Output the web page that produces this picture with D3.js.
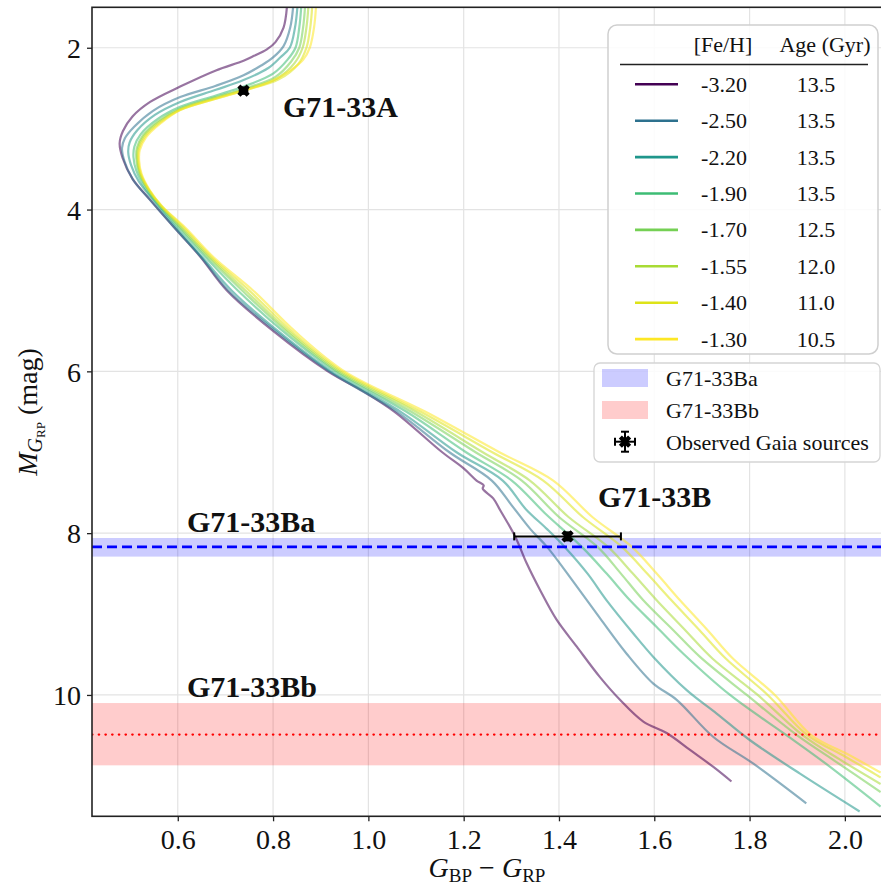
<!DOCTYPE html>
<meta charset="utf-8">
<head>
  <title>G71-33 isochrones</title>
</head>

<style>
body { margin: 0; background: #fff; }
text {
  font-family: "Liberation Serif", "Times New Roman", serif;
  fill: #111;
}
.axis text { font-size: 28px; fill: #111; }
.axis line { stroke: #222; stroke-width: 1.3; }
.grid line { stroke: #e3e3e3; stroke-width: 1.2; }
.iso { fill: none; stroke-width: 2.2; opacity: 0.55; }
.lbl { font-size: 30px; font-weight: bold; }
.leg { font-size: 22px; }
</style>

<body>
  <svg width="881" height="890"></svg>

  <script src="https://cdnjs.cloudflare.com/ajax/libs/d3/7.8.5/d3.min.js"></script>
  <script>
// legend table
var feh = [-3.20, -2.50, -2.20, -1.90, -1.70, -1.55, -1.40, -1.30];
var ages = ["13.5", "13.5", "13.5", "13.5", "12.5", "12.0", "11.0", "10.5"];

// isochrones, [BP-RP, M_RP]
var iso320 = [[0.829,1.50],[0.822,1.75],[0.805,1.93],[0.787,2.02],[0.760,2.10],[0.738,2.16],[0.680,2.28],[0.605,2.48],[0.542,2.67],[0.505,2.85],[0.485,3.03],[0.478,3.18],[0.484,3.36],[0.505,3.62],[0.542,3.88],[0.591,4.21],[0.647,4.58],[0.703,5.00],[0.800,5.50],[0.915,6.00],[0.990,6.25],[1.055,6.50],[1.155,7.00],[1.200,7.20],[1.227,7.35],[1.242,7.41],[1.240,7.45],[1.262,7.57],[1.277,7.72],[1.308,8.04],[1.332,8.37],[1.360,8.70],[1.395,9.07],[1.437,9.40],[1.486,9.78],[1.528,10.06],[1.577,10.33],[1.626,10.47],[1.675,10.68],[1.724,10.89],[1.762,11.07]];
var iso250 = [[0.842,1.50],[0.836,1.75],[0.822,1.98],[0.800,2.12],[0.775,2.22],[0.738,2.34],[0.680,2.47],[0.605,2.61],[0.548,2.78],[0.508,2.98],[0.489,3.12],[0.483,3.24],[0.488,3.40],[0.506,3.63],[0.543,3.89],[0.592,4.22],[0.649,4.59],[0.706,5.00],[0.805,5.50],[0.918,6.00],[1.060,6.50],[1.170,7.00],[1.259,7.35],[1.300,7.65],[1.340,7.95],[1.375,8.17],[1.430,8.60],[1.486,9.05],[1.542,9.49],[1.598,9.86],[1.647,10.06],[1.724,10.52],[1.808,10.85],[1.919,11.34]];
var iso220 = [[0.851,1.50],[0.846,1.75],[0.835,2.00],[0.815,2.12],[0.790,2.25],[0.738,2.40],[0.680,2.52],[0.605,2.67],[0.552,2.83],[0.515,3.02],[0.499,3.17],[0.496,3.29],[0.502,3.45],[0.518,3.65],[0.548,3.88],[0.596,4.22],[0.653,4.60],[0.713,5.00],[0.810,5.50],[0.922,6.00],[1.068,6.50],[1.185,7.00],[1.282,7.35],[1.330,7.70],[1.375,7.95],[1.412,8.17],[1.460,8.50],[1.500,8.83],[1.556,9.24],[1.598,9.53],[1.668,9.94],[1.731,10.23],[1.801,10.56],[1.905,10.97],[2.031,11.44]];
var iso190 = [[0.859,1.50],[0.855,1.75],[0.847,2.00],[0.830,2.15],[0.800,2.32],[0.738,2.48],[0.680,2.59],[0.605,2.73],[0.558,2.88],[0.522,3.07],[0.509,3.22],[0.507,3.35],[0.513,3.52],[0.530,3.72],[0.556,3.92],[0.601,4.22],[0.660,4.60],[0.726,5.00],[0.820,5.50],[0.930,6.00],[1.080,6.50],[1.205,7.00],[1.301,7.35],[1.370,7.75],[1.448,8.17],[1.500,8.50],[1.549,8.83],[1.605,9.16],[1.661,9.49],[1.759,10.00],[1.878,10.50],[1.960,10.85],[2.075,11.38]];
var iso170 = [[0.867,1.50],[0.863,1.75],[0.855,2.00],[0.838,2.17],[0.805,2.36],[0.738,2.51],[0.680,2.61],[0.605,2.75],[0.560,2.90],[0.527,3.08],[0.514,3.24],[0.513,3.37],[0.518,3.53],[0.535,3.73],[0.560,3.93],[0.605,4.22],[0.665,4.60],[0.735,5.00],[0.827,5.50],[0.935,6.00],[1.090,6.50],[1.225,7.00],[1.322,7.35],[1.400,7.80],[1.481,8.17],[1.530,8.50],[1.577,8.83],[1.640,9.20],[1.696,9.53],[1.794,10.00],[1.900,10.50],[1.980,10.82],[2.075,11.20]];
var iso155 = [[0.874,1.50],[0.870,1.75],[0.862,2.00],[0.845,2.19],[0.808,2.38],[0.738,2.52],[0.680,2.62],[0.605,2.76],[0.562,2.91],[0.529,3.09],[0.516,3.25],[0.515,3.38],[0.520,3.54],[0.537,3.74],[0.562,3.94],[0.608,4.22],[0.669,4.60],[0.742,5.00],[0.832,5.50],[0.940,6.00],[1.100,6.50],[1.240,7.00],[1.339,7.35],[1.420,7.80],[1.503,8.17],[1.555,8.50],[1.605,8.83],[1.665,9.20],[1.722,9.55],[1.817,10.00],[1.912,10.50],[1.990,10.80],[2.075,11.10]];
var iso140 = [[0.882,1.50],[0.878,1.75],[0.870,2.00],[0.853,2.20],[0.812,2.39],[0.738,2.53],[0.680,2.63],[0.605,2.77],[0.564,2.92],[0.531,3.10],[0.518,3.26],[0.517,3.39],[0.522,3.55],[0.539,3.75],[0.565,3.95],[0.612,4.22],[0.673,4.60],[0.750,5.00],[0.838,5.50],[0.945,6.00],[1.110,6.50],[1.260,7.00],[1.367,7.35],[1.450,7.80],[1.532,8.17],[1.585,8.50],[1.636,8.83],[1.695,9.20],[1.750,9.55],[1.838,10.00],[1.922,10.50],[2.000,10.76],[2.075,11.02]];
var iso130 = [[0.890,1.50],[0.886,1.75],[0.877,2.00],[0.863,2.15],[0.836,2.28],[0.794,2.42],[0.738,2.53],[0.680,2.63],[0.605,2.77],[0.565,2.93],[0.533,3.11],[0.520,3.27],[0.519,3.40],[0.524,3.56],[0.541,3.76],[0.567,3.96],[0.615,4.22],[0.677,4.60],[0.758,5.00],[0.845,5.50],[0.950,6.00],[1.120,6.50],[1.275,7.00],[1.388,7.35],[1.470,7.80],[1.553,8.17],[1.605,8.50],[1.654,8.83],[1.712,9.20],[1.765,9.55],[1.853,10.00],[1.930,10.50],[2.005,10.73],[2.075,10.96]];
var isochrones = [iso320, iso250, iso220, iso190, iso170, iso155, iso140, iso130];

// companion magnitudes (line, band low, band high)
var baMag = [8.17, 8.06, 8.29];
var bbMag = [10.49, 10.10, 10.87];

// observed Gaia sources
var srcNames = ["G71-33A", "G71-33B"];
var srcX = [0.738, 1.418];
var srcY = [2.53, 8.04];
var srcXerr = [0.008, 0.112];
var srcYerr = [0.04, 0.05];

var xTicks = [0.6, 0.8, 1.0, 1.2, 1.4, 1.6, 1.8, 2.0];
var yTicks = [2, 4, 6, 8, 10];

var svg = d3.select('svg');
var pL = 92, pT = 7.3, pR = 883, pB = 816.3;

var x = d3.scaleLinear().domain([0.42, 2.08]).range([pL, pR]);
var y = d3.scaleLinear().domain([1.5, 11.5]).range([pT, pB]);
var color = d3.scaleSequential(d3.interpolateViridis).domain([-3.2, -1.3]);

svg.append('defs').append('clipPath').attr('id', 'clip')
  .append('rect')
  .attr('x', pL).attr('y', pT)
  .attr('width', pR - pL).attr('height', pB - pT);

// grid
var grid = svg.append('g').attr('class', 'grid');
grid.selectAll('.gx').data(xTicks).enter().append('line')
  .attr('x1', function(d) { return x(d); }).attr('x2', function(d) { return x(d); })
  .attr('y1', pT).attr('y2', pB);
grid.selectAll('.gy').data(yTicks).enter().append('line')
  .attr('y1', function(d) { return y(d); }).attr('y2', function(d) { return y(d); })
  .attr('x1', pL).attr('x2', pR);

var plot = svg.append('g').attr('clip-path', 'url(#clip)');

// bands
plot.append('rect')
  .attr('x', pL).attr('width', pR - pL)
  .attr('y', y(baMag[1])).attr('height', y(baMag[2]) - y(baMag[1]))
  .attr('fill', 'blue').attr('fill-opacity', 0.2);
plot.append('rect')
  .attr('x', pL).attr('width', pR - pL)
  .attr('y', y(bbMag[1])).attr('height', y(bbMag[2]) - y(bbMag[1]))
  .attr('fill', 'red').attr('fill-opacity', 0.2);

var line = d3.line()
  .x(function(d) { return x(d[0]); })
  .y(function(d) { return y(d[1]); })
  .curve(d3.curveCatmullRom.alpha(0.5));

plot.selectAll('.iso').data(isochrones).enter().append('path')
  .attr('class', 'iso')
  .attr('d', line)
  .attr('stroke', function(d, i) { return color(feh[i]); });

plot.append('line')
  .attr('x1', pL).attr('x2', pR)
  .attr('y1', y(baMag[0])).attr('y2', y(baMag[0]))
  .attr('stroke', '#0000ff').attr('stroke-width', 2.6)
  .attr('stroke-dasharray', '10,5');
plot.append('line')
  .attr('x1', pL).attr('x2', pR)
  .attr('y1', y(bbMag[0])).attr('y2', y(bbMag[0]))
  .attr('stroke', '#ff0000').attr('stroke-width', 2.2)
  .attr('stroke-linecap', 'round')
  .attr('stroke-dasharray', '0.5,6.2');

// error bars + X markers
var xMark = d3.symbol().type(d3.symbolCross).size(95);
function errMark(g, cx, cy, dx, dy, cap) {
  g.append('line').attr('x1', cx - dx).attr('x2', cx + dx).attr('y1', cy).attr('y2', cy);
  g.append('line').attr('x1', cx).attr('x2', cx).attr('y1', cy - dy).attr('y2', cy + dy);
  g.append('line').attr('x1', cx - dx).attr('x2', cx - dx).attr('y1', cy - cap).attr('y2', cy + cap);
  g.append('line').attr('x1', cx + dx).attr('x2', cx + dx).attr('y1', cy - cap).attr('y2', cy + cap);
  g.append('line').attr('x1', cx - cap).attr('x2', cx + cap).attr('y1', cy - dy).attr('y2', cy - dy);
  g.append('line').attr('x1', cx - cap).attr('x2', cx + cap).attr('y1', cy + dy).attr('y2', cy + dy);
  g.append('path').attr('d', xMark)
    .attr('transform', 'translate(' + cx + ',' + cy + ') rotate(45)')
    .attr('fill', '#000').attr('stroke', 'none');
}
var srcG = svg.append('g').attr('stroke', '#000').attr('stroke-width', 2);
srcX.forEach(function(v, i) {
  errMark(srcG, x(v), y(srcY[i]),
    x(v + srcXerr[i]) - x(v), y(srcY[i] + srcYerr[i]) - y(srcY[i]), 4);
});

// frame
svg.append('rect')
  .attr('x', pL).attr('y', pT)
  .attr('width', pR - pL).attr('height', pB - pT)
  .attr('fill', 'none').attr('stroke', '#222').attr('stroke-width', 1.6);

// axes
var xAxis = svg.append('g').attr('class', 'axis')
  .attr('transform', 'translate(0,' + pB + ')')
  .call(d3.axisBottom(x).tickValues(xTicks).tickFormat(d3.format('.1f')).tickSize(5));
xAxis.select('.domain').remove();
xAxis.selectAll('text').attr('y', 33).attr('dy', 0);

var yAxis = svg.append('g').attr('class', 'axis')
  .attr('transform', 'translate(' + pL + ',0)')
  .call(d3.axisLeft(y).tickValues(yTicks).tickSize(5));
yAxis.select('.domain').remove();
yAxis.selectAll('text').attr('x', -11).attr('dy', '0.35em');

// axis labels
var xl = svg.append('text').attr('x', 487).attr('y', 877)
  .attr('text-anchor', 'middle').style('font-size', '28px');
xl.append('tspan').attr('font-style', 'italic').text('G');
xl.append('tspan').attr('font-size', '19px').attr('dy', 5).text('BP');
xl.append('tspan').attr('dy', -5).text(' \u2212 ');
xl.append('tspan').attr('font-style', 'italic').text('G');
xl.append('tspan').attr('font-size', '19px').attr('dy', 5).text('RP');

var yl = svg.append('text')
  .attr('transform', 'translate(37,412) rotate(-90)')
  .attr('text-anchor', 'middle').style('font-size', '28px');
yl.append('tspan').attr('font-style', 'italic').text('M');
yl.append('tspan').attr('font-style', 'italic').attr('font-size', '20px').attr('dy', 5).text('G');
yl.append('tspan').attr('font-size', '13px').attr('dy', 3).text('RP');
yl.append('tspan').attr('dy', -8).text(' (mag)');

// star labels
svg.append('text').attr('class', 'lbl').attr('x', 283).attr('y', 117).text(srcNames[0]);
svg.append('text').attr('class', 'lbl').attr('x', 598).attr('y', 507).text(srcNames[1]);
svg.append('text').attr('class', 'lbl').attr('x', 187).attr('y', 532).text('G71-33Ba');
svg.append('text').attr('class', 'lbl').attr('x', 187).attr('y', 697).text('G71-33Bb');

// legend 1: isochrone table
var lg = svg.append('g');
lg.append('rect').attr('x', 608).attr('y', 25).attr('width', 270).attr('height', 329)
  .attr('rx', 9).attr('fill', '#fff').attr('fill-opacity', 0.85)
  .attr('stroke', '#cfcfcf').attr('stroke-width', 1.5);
lg.append('text').attr('class', 'leg').attr('x', 723).attr('y', 52)
  .attr('text-anchor', 'middle').text('[Fe/H]');
lg.append('text').attr('class', 'leg').attr('x', 825).attr('y', 52)
  .attr('text-anchor', 'middle').text('Age (Gyr)');
lg.append('line').attr('x1', 620).attr('x2', 868).attr('y1', 64.5).attr('y2', 64.5)
  .attr('stroke', '#222').attr('stroke-width', 1.6);
var rows = lg.selectAll('.row').data(feh).enter().append('g')
  .attr('transform', function(d, i) { return 'translate(0,' + (84.3 + i * 36.4) + ')'; });
rows.append('line').attr('x1', 635).attr('x2', 678).attr('y1', 0).attr('y2', 0)
  .attr('stroke-width', 2.6).attr('stroke', function(d) { return color(d); });
rows.append('text').attr('class', 'leg').attr('x', 724).attr('y', 7.5)
  .attr('text-anchor', 'middle').text(function(d) { return d3.format('.2f')(d).replace('\u2212', '-'); });
rows.append('text').attr('class', 'leg').attr('x', 816).attr('y', 7.5)
  .attr('text-anchor', 'middle').text(function(d, i) { return ages[i]; });

// legend 2: bands and sources
var lg2 = svg.append('g');
lg2.append('rect').attr('x', 594).attr('y', 363).attr('width', 286).attr('height', 99)
  .attr('rx', 6).attr('fill', '#fff').attr('fill-opacity', 0.85)
  .attr('stroke', '#d5d5d5').attr('stroke-width', 1.3);
lg2.append('rect').attr('x', 602).attr('y', 369).attr('width', 46).attr('height', 18)
  .attr('fill', 'blue').attr('fill-opacity', 0.2);
lg2.append('rect').attr('x', 602).attr('y', 401).attr('width', 46).attr('height', 18)
  .attr('fill', 'red').attr('fill-opacity', 0.2);
lg2.append('text').attr('class', 'leg').attr('x', 666).attr('y', 385.5).text('G71-33Ba');
lg2.append('text').attr('class', 'leg').attr('x', 666).attr('y', 417.5).text('G71-33Bb');
lg2.append('text').attr('class', 'leg').attr('x', 666).attr('y', 449.5).text('Observed Gaia sources');
var lgm = lg2.append('g').attr('stroke', '#000').attr('stroke-width', 2);
errMark(lgm, 625, 441.7, 10, 10, 4);
  </script>
</body>
</html>
